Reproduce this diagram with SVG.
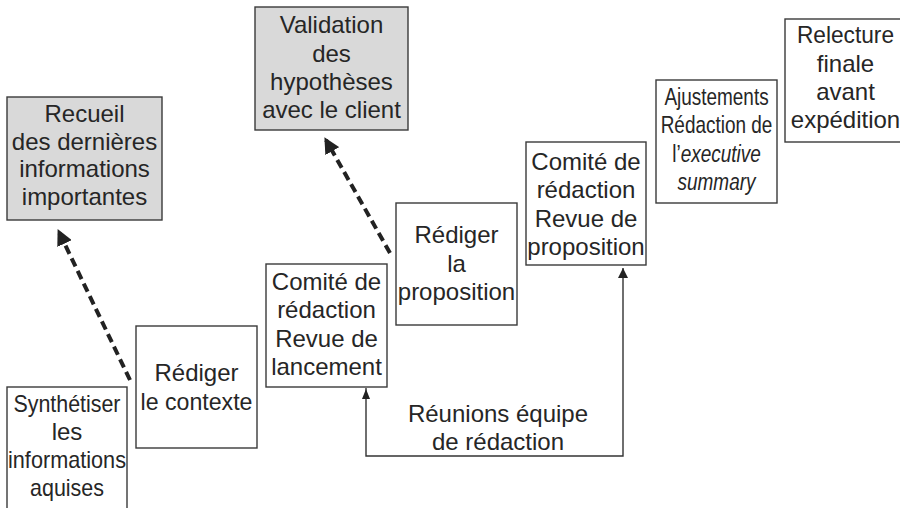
<svg xmlns="http://www.w3.org/2000/svg" width="900" height="508" viewBox="0 0 900 508">
<defs>
<style>
.box{fill:#ffffff;stroke:#3a3a3a;stroke-width:1.4}
.grey{fill:#d9d9d9;stroke:#3a3a3a;stroke-width:1.4}
text{font-family:"Liberation Sans",Arial,Helvetica,sans-serif;font-size:24px;fill:#262626;text-anchor:middle}
.it{font-style:italic}
.dash{fill:none;stroke:#222;stroke-width:4;stroke-dasharray:9 5}
.solid{fill:none;stroke:#333;stroke-width:1.4}
</style>
<marker id="ah" viewBox="0 0 10 10" refX="10" refY="5" markerWidth="10" markerHeight="10" markerUnits="userSpaceOnUse" orient="auto">
<path d="M0,0 L10,5 L0,10 Z" fill="#222"/>
</marker>
<marker id="ahd" viewBox="0 0 10 10" refX="8" refY="5" markerWidth="4" markerHeight="4" orient="auto">
<path d="M0,0 L10,5 L0,10 Z" fill="#222"/>
</marker>
</defs>
<rect width="900" height="508" fill="#ffffff"/>

<g id="connectors">
<line class="dash" x1="130" y1="380" x2="59" y2="232" marker-end="url(#ahd)"/>
<line class="dash" x1="390" y1="253" x2="326" y2="140" marker-end="url(#ahd)"/>
<path class="solid" d="M366,388 L366,456 L623,456 L623,268" marker-end="url(#ah)"/>
<path d="M366,389 L362,399 L370,399 Z" fill="#222"/>
<text x="498" y="422">Réunions équipe</text>
<text x="498" y="450">de rédaction</text>
</g>

<g id="n-synthetiser">
<rect class="box" x="7" y="387" width="120" height="140"/>
<text x="67" y="412" textLength="107" lengthAdjust="spacingAndGlyphs">Synthétiser</text>
<text x="67" y="440">les</text>
<text x="67" y="468" textLength="118" lengthAdjust="spacingAndGlyphs">informations</text>
<text x="67" y="496" textLength="74" lengthAdjust="spacingAndGlyphs">aquises</text>
</g>

<g id="n-contexte">
<rect class="box" x="136" y="326" width="121" height="122"/>
<text x="196.5" y="381">Rédiger</text>
<text x="196.5" y="410" textLength="112" lengthAdjust="spacingAndGlyphs">le contexte</text>
</g>

<g id="n-lancement">
<rect class="box" x="266" y="264" width="121" height="123"/>
<text x="326.5" y="290">Comité de</text>
<text x="326.5" y="318">rédaction</text>
<text x="326.5" y="347">Revue de</text>
<text x="326.5" y="375">lancement</text>
</g>

<g id="n-proposition">
<rect class="box" x="396" y="203" width="121" height="122"/>
<text x="456.5" y="243">Rédiger</text>
<text x="456.5" y="272">la</text>
<text x="456.5" y="300">proposition</text>
</g>

<g id="n-revue">
<rect class="box" x="526" y="142" width="120" height="123"/>
<text x="586" y="170">Comité de</text>
<text x="586" y="198">rédaction</text>
<text x="586" y="227">Revue de</text>
<text x="586" y="255">proposition</text>
</g>

<g id="n-ajustements">
<rect class="box" x="656" y="80" width="121" height="123"/>
<g transform="translate(716.5,0) scale(0.79,1)">
<text x="0" y="105">Ajustements</text>
<text x="0" y="133">Rédaction de</text>
<text x="0" y="162">l’<tspan class="it">executive</tspan></text>
<text x="0" y="190" class="it">summary</text>
</g>
</g>

<g id="n-relecture">
<rect class="box" x="785" y="19" width="122" height="123"/>
<text x="845.5" y="43" textLength="97" lengthAdjust="spacingAndGlyphs">Relecture</text>
<text x="845.5" y="72">finale</text>
<text x="845.5" y="100">avant</text>
<text x="845.5" y="128">expédition</text>
</g>

<g id="n-recueil">
<rect class="grey" x="7" y="97" width="155" height="123"/>
<text x="84.5" y="122">Recueil</text>
<text x="84.5" y="150">des dernières</text>
<text x="84.5" y="177">informations</text>
<text x="84.5" y="205">importantes</text>
</g>

<g id="n-validation">
<rect class="grey" x="255" y="7" width="153" height="123"/>
<text x="331.5" y="33">Validation</text>
<text x="331.5" y="62">des</text>
<text x="331.5" y="90">hypothèses</text>
<text x="331.5" y="118">avec le client</text>
</g>
</svg>
